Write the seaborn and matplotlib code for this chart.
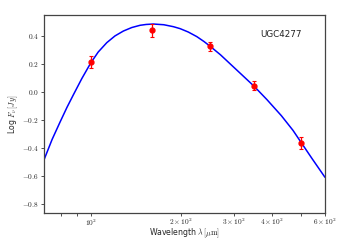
import numpy as np
import pandas as pd
import matplotlib
matplotlib.use("Agg")
import matplotlib.pyplot as plt
import matplotlib.ticker as mticker
import seaborn as sns

# --- Data ---
# photometry (Herschel bands)
wavelengths = [100, 160, 250, 350, 500]
log_flux = [0.215, 0.44, 0.325, 0.045, -0.365]
log_flux_err = [0.045, 0.045, 0.03, 0.03, 0.04]

# fitted curve
curve_wave = [70.2, 74.5, 79.2, 83.5, 87.7, 93.5, 100, 106, 113.2, 120.5, 128.5,
              137, 146, 153, 161.7, 175, 188.4, 198.3, 211, 225.3, 238, 250.8,
              270, 290.8, 318, 349.2, 385, 430, 470, 499, 545, 600]
curve_flux = [-0.48, -0.34, -0.215, -0.11, -0.02, 0.095, 0.205, 0.285, 0.352, 0.40, 0.435,
              0.46, 0.476, 0.482, 0.485, 0.48, 0.466, 0.452, 0.428, 0.395, 0.36, 0.322,
              0.265, 0.2, 0.122, 0.04, -0.055, -0.17, -0.275, -0.358, -0.48, -0.61]

LABEL = "UGC4277"

sns.set_style("white")
plt.rcParams["font.family"] = ["DejaVu Sans"]
plt.rcParams["mathtext.fontset"] = "cm"

fig, ax = plt.subplots(figsize=(3.49, 2.49), dpi=100)
fig.subplots_adjust(left=0.127, right=0.931, bottom=0.145, top=0.94)

curve_df = pd.DataFrame({"wave": curve_wave, "flux": curve_flux})
sns.lineplot(data=curve_df, x="wave", y="flux", ax=ax, color="blue", linewidth=1.1,
             sort=False)

ax.errorbar(wavelengths, log_flux, yerr=log_flux_err, fmt="o", color="red",
            ecolor="red", markersize=3.5, elinewidth=0.9, capsize=1.3, capthick=0.8,
            zorder=3)

ax.set_xscale("log")
ax.set_xlim(70.2, 600)
ax.set_ylim(-0.865, 0.55)

ax.xaxis.set_major_locator(mticker.FixedLocator([100]))
ax.xaxis.set_major_formatter(mticker.FixedFormatter([r"$10^2$"]))
ax.xaxis.set_minor_locator(mticker.FixedLocator([70, 80, 90, 200, 300, 400, 500, 600]))
minor_labels = {200: r"$2\times10^2$", 300: r"$3\times10^2$",
                400: r"$4\times10^2$", 600: r"$6\times10^2$"}
ax.xaxis.set_minor_formatter(mticker.FuncFormatter(
    lambda v, pos: minor_labels.get(int(round(v)), "")))

ax.yaxis.set_major_locator(mticker.MultipleLocator(0.2))
ax.yaxis.set_major_formatter(mticker.FuncFormatter(lambda v, pos: r"$%.1f$" % v))

ax.tick_params(axis="both", which="both", direction="out", labelsize=5.3,
               bottom=True, left=True, color="#333333", width=0.6, pad=1.2,
               labelcolor="#222222")
ax.tick_params(axis="both", which="major", length=2.5)
ax.tick_params(axis="x", which="minor", length=1.8)
for spine in ax.spines.values():
    spine.set_color("#444444")
    spine.set_linewidth(0.9)

ax.set_xlabel(r"Wavelength $\lambda\,[\mu\mathrm{m}]$", fontsize=5.6)
ax.set_ylabel(r"Log $F_\nu\,[Jy]$", fontsize=5.6)
ax.xaxis.set_label_coords(0.5, -0.068)
ax.yaxis.set_label_coords(-0.088, 0.5)

ax.text(0.918, 0.9, LABEL, transform=ax.transAxes, ha="right", va="center",
        fontsize=6.3, color="#222222")

fig.savefig("out.png", dpi=100)
